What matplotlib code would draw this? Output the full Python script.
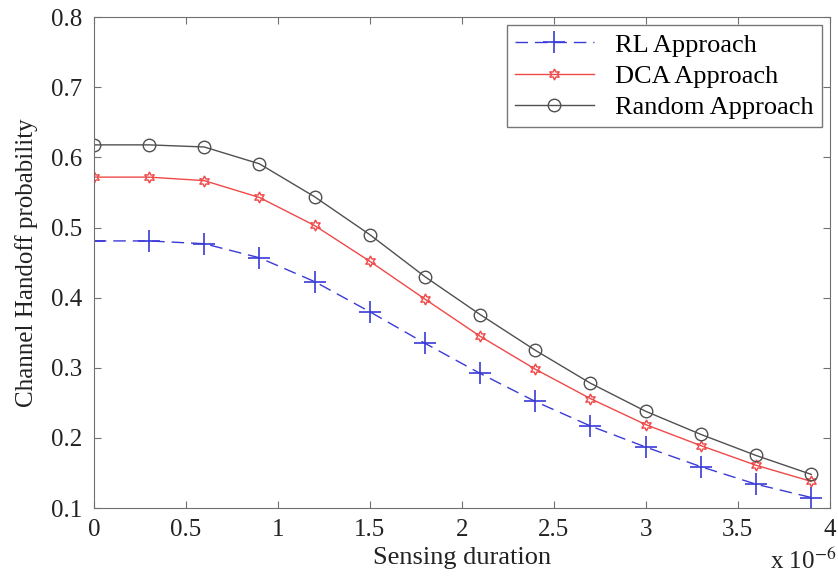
import numpy as np
import matplotlib.pyplot as plt

plt.rcParams['font.family'] = ['Liberation Serif', 'DejaVu Serif']
plt.rcParams['mathtext.fontset'] = 'stix'

# sensing duration in units of 1e-6 s
duration = [0, 0.3, 0.6, 0.9, 1.2, 1.5, 1.8, 2.1, 2.4, 2.7, 3.0, 3.3, 3.6, 3.9]
rl = [0.481, 0.481, 0.477, 0.457, 0.423, 0.380, 0.335, 0.292, 0.252, 0.217, 0.187, 0.159, 0.134, 0.115]
dca = [0.572, 0.572, 0.567, 0.543, 0.503, 0.452, 0.398, 0.345, 0.298, 0.256, 0.219, 0.189, 0.161, 0.138]
rnd = [0.618, 0.618, 0.615, 0.591, 0.544, 0.490, 0.430, 0.376, 0.325, 0.278, 0.238, 0.205, 0.175, 0.148]

fig = plt.figure(figsize=(8.38, 5.76), dpi=100)
ax = fig.add_axes([0.112, 0.118, 0.878, 0.852])

ax.plot(duration, rl, color='#3a3ad8', linestyle=(0, (9, 5)), linewidth=1,
        marker='+', markersize=16, markeredgewidth=1.2, label='RL Approach')
ax.plot(duration, dca, color='#f04848', linewidth=1, marker=(6, 1, 0),
        markersize=8, markerfacecolor='none', markeredgewidth=1, label='DCA Approach')
ax.plot(duration, rnd, color='#505050', linewidth=1, marker='o',
        markersize=9, markerfacecolor='none', markeredgewidth=1, label='Random Approach')

ax.set_xlim(0, 4)
ax.set_ylim(0.1, 0.8)
ax.set_xticks(np.arange(0, 4.01, 0.5))
ax.set_xticklabels(['0', '0.5', '1', '1.5', '2', '2.5', '3', '3.5', '4'])
ax.set_yticks(np.arange(0.1, 0.81, 0.1))
ax.set_yticklabels(['0.1', '0.2', '0.3', '0.4', '0.5', '0.6', '0.7', '0.8'])
ax.tick_params(direction='in', length=5, labelsize=18, top=True, right=True,
               colors='#707070', labelcolor='#222222', pad=8)
for s in ax.spines.values():
    s.set_color('#707070')

ax.set_xlabel('Sensing duration', fontsize=19, labelpad=4, color='#222222')
ax.set_ylabel('Channel Handoff probability', fontsize=18, labelpad=10, color='#222222')
fig.text(0.998, 0.004, r'x 10$^{-6}$', ha='right', va='bottom', fontsize=18, color='#222222')

leg = ax.legend(loc='upper right', fontsize=19, frameon=True, fancybox=False,
                edgecolor='#555555', handlelength=3.0, borderpad=0.3,
                labelspacing=0.3, borderaxespad=0.3, handletextpad=0.8)
leg.get_frame().set_linewidth(1)

fig.savefig('out.png', dpi=100)
